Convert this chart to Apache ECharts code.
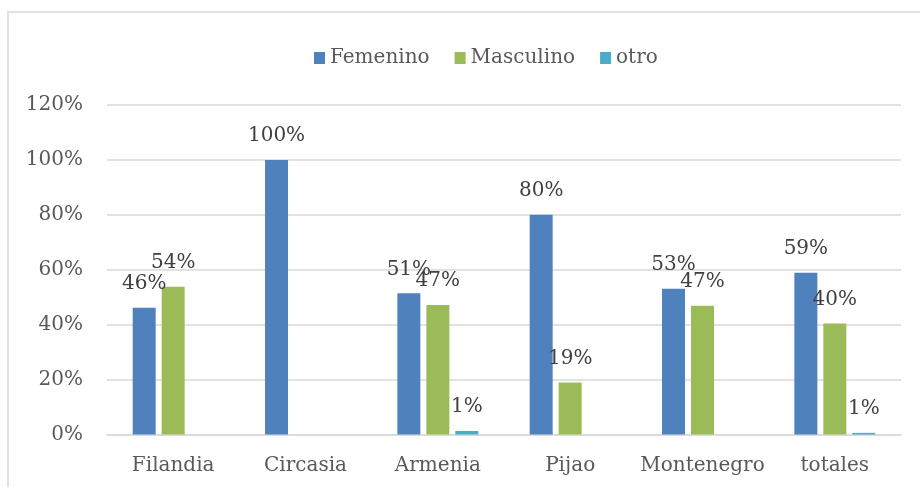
<!DOCTYPE html>
<html>
<head>
<meta charset="utf-8">
<script src="https://cdn.jsdelivr.net/npm/echarts@6/dist/echarts.min.js"></script>
<style>html,body{margin:0;padding:0;background:#fff;}#c{width:920px;height:487px;}</style>
</head>
<body>
<div id="c"></div>
<script>
var categories = ['Filandia', 'Circasia', 'Armenia', 'Pijao', 'Montenegro', 'totales'];
var femenino = [46.2, 100, 51.4, 80, 53.1, 58.9];
var masculino = [53.8, 0, 47.2, 18.9, 46.9, 40.4];
var otro = [0, 0, 1.3, 0, 0, 0.6];
var seriesNames = ['Femenino', 'Masculino', 'otro'];
var colors = ['#4F81BD', '#9BBB59', '#4BACC6'];
var yTicks = [0, 20, 40, 60, 80, 100, 120];

var FONT = 'DejaVu Serif';
var chart = echarts.init(document.getElementById('c'));
function mk(name, data, color) {
  return {
    name: name, type: 'bar', data: data, barWidth: 23, barGap: '26%',
    itemStyle: { color: color },
    label: {
      show: true, position: 'top', distance: 14,
      fontFamily: FONT, fontSize: 20, color: '#404040',
      formatter: function (p) { return p.value ? Math.round(p.value) + '%' : ''; }
    }
  };
}
chart.setOption({
  backgroundColor: '#fff',
  animation: false,
  graphic: [{
    type: 'rect', shape: { x: 8, y: 12, width: 1000, height: 1000 },
    style: { fill: 'none', stroke: '#d9d9d9', lineWidth: 1.5 }, silent: true, z: -10
  }],
  color: colors,
  legend: {
    data: seriesNames, top: 43, left: 309,
    itemWidth: 11, itemHeight: 12, itemGap: 25,
    icon: 'rect',
    textStyle: { fontFamily: FONT, fontSize: 20, color: '#595959' }
  },
  grid: { left: 107, right: 19, top: 105, bottom: 52.5, containLabel: false },
  xAxis: {
    type: 'category', data: categories,
    axisLine: { lineStyle: { color: '#d9d9d9', width: 1.5 } },
    axisTick: { show: false },
    axisLabel: { interval: 0, fontFamily: FONT, fontSize: 20, color: '#595959', margin: 21 }
  },
  yAxis: {
    type: 'value', min: yTicks[0], max: yTicks[yTicks.length - 1], interval: 20,
    axisLine: { show: false }, axisTick: { show: false },
    splitLine: { lineStyle: { color: '#d9d9d9', width: 1.5 } },
    axisLabel: { fontFamily: FONT, fontSize: 20, color: '#595959', margin: 24,
      formatter: function (v) { return v + '%'; } }
  },
  series: [mk(seriesNames[0], femenino, colors[0]), mk(seriesNames[1], masculino, colors[1]), mk(seriesNames[2], otro, colors[2])]
});
</script>
</body>
</html>
